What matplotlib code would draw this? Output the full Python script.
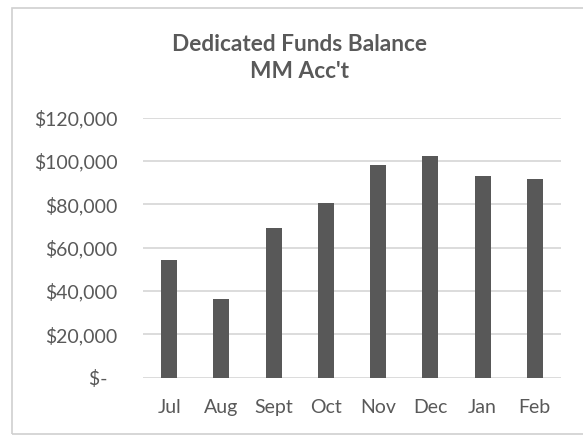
import matplotlib.pyplot as plt
from matplotlib.patches import Rectangle
from matplotlib.ticker import FuncFormatter

months = ["Jul", "Aug", "Sept", "Oct", "Nov", "Dec", "Jan", "Feb"]
balance = [54400, 36400, 69300, 80700, 98400, 102500, 93300, 91500]
yticks = [0, 20000, 40000, 60000, 80000, 100000, 120000]

text_col = "#595959"
bar_col = "#585858"
grid_col = "#d9d9d9"

plt.rcParams['font.family'] = ['Lato', 'DejaVu Sans']

fig = plt.figure(figsize=(5.83, 4.37), dpi=100)
fig.patch.set_facecolor("white")
ax = fig.add_axes([143 / 583, 1 - 377.7 / 437, 418 / 583, 260 / 437])

ax.bar(range(len(months)), balance, width=0.31, color=bar_col, zorder=3)
ax.set_xlim(-0.5, len(months) - 0.5)
ax.set_ylim(0, 120000)
ax.set_yticks(yticks)
ax.set_xticks(range(len(months)))
ax.set_xticklabels(months)


def money(v, pos):
    # accounting style: zero shows as a dash
    if v == 0:
        return "$-  "
    return "${:,.0f}".format(v)


ax.yaxis.set_major_formatter(FuncFormatter(money))
ax.grid(axis="y", color=grid_col, linewidth=1.3, zorder=0)
for s in ax.spines.values():
    s.set_visible(False)
ax.tick_params(axis="both", length=0, labelsize=14, colors=text_col)
ax.tick_params(axis="y", pad=18.5)
ax.tick_params(axis="x", pad=15.5)

fig.text(299.5 / 583, 1 - 58 / 437, "Dedicated Funds Balance\nMM Acc't",
         ha="center", va="center", fontsize=16.3, fontweight="bold",
         color=text_col, linespacing=1.4)

# chart border
fig.patches.append(Rectangle((12 / 583, 1 - 434 / 437), 1.1, 426 / 437,
                             transform=fig.transFigure, fill=False,
                             edgecolor="#d0d0d0", linewidth=1.2))

fig.savefig("out.png", dpi=100)
